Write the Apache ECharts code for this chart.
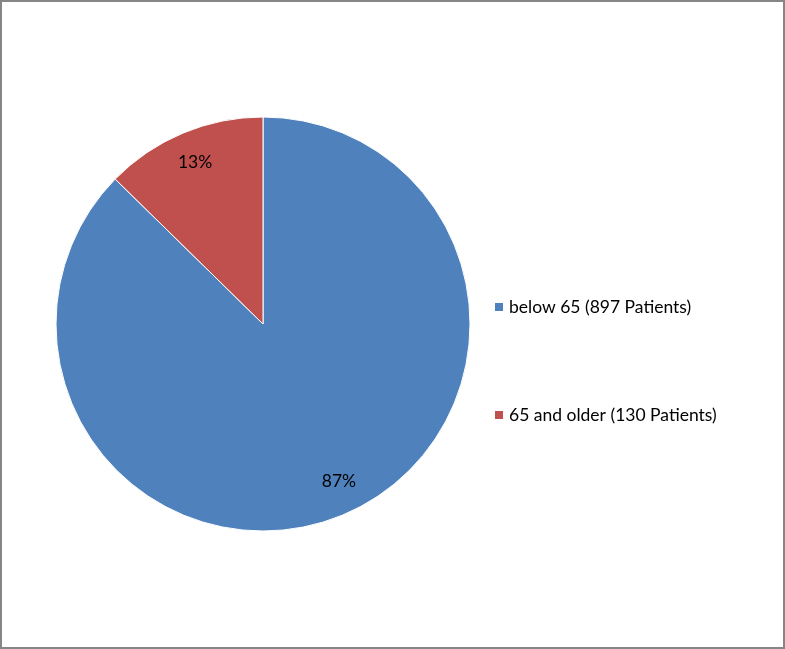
<!DOCTYPE html>
<html>
<head>
<meta charset="utf-8">
<script src="https://cdn.jsdelivr.net/npm/echarts@6/dist/echarts.min.js"></script>
<style>
  html, body { margin: 0; padding: 0; background: #fff; }
  #chart { width: 785px; height: 649px; }
</style>
</head>
<body>
<div id="chart"></div>
<script>
const categories = ['below 65 (897 Patients)', '65 and older (130 Patients)']
const patients = [897, 130]
const colors = ['#4F81BD', '#C0504D']

const chart = echarts.init(document.getElementById('chart'))

const pieData = categories.map((name, i) => ({
    name,
    value: patients[i],
    itemStyle: { color: colors[i] }
}))

// small nudge so the labels sit where the original placed them
const labelOffsets = [[7, -7], [1, 2]]

const option = {
    animation: false,
    textStyle: { fontFamily: 'Lato, sans-serif' },
    graphic: [{
        type: 'rect',
        shape: { x: 1, y: 1, width: 783, height: 647 },
        style: { fill: 'none', stroke: '#868686', lineWidth: 2 },
        silent: true
    }],
    legend: {
        orient: 'vertical',
        left: 488,
        top: 293,
        itemWidth: 10,
        itemHeight: 10,
        itemGap: 90,
        icon: 'rect',
        data: categories,
        textStyle: { fontSize: 17.5, color: '#000', fontFamily: 'Lato, sans-serif' }
    },
    series: [
        {
            type: 'pie',
            center: [263, 324],
            radius: [0, 207],
            startAngle: 90,
            clockwise: true,
            itemStyle: { borderColor: '#fff', borderWidth: 1 },
            label: { show: false },
            labelLine: { show: false },
            data: pieData
        },
        {
            // transparent ring used only to place the percentage labels near the rim
            type: 'pie',
            center: [263, 324],
            radius: [146, 204],
            startAngle: 90,
            clockwise: true,
            silent: true,
            itemStyle: { color: 'rgba(0,0,0,0)' },
            label: {
                show: true,
                position: 'inside',
                color: '#000',
                fontSize: 17.5,
                fontFamily: 'Lato, sans-serif',
                formatter: p => Math.round(p.percent) + '%'
            },
            labelLine: { show: false },
            data: categories.map((name, i) => ({
                name,
                value: patients[i],
                itemStyle: { color: 'rgba(0,0,0,0)' },
                label: { offset: labelOffsets[i] }
            }))
        }
    ]
}

chart.setOption(option)
</script>
</body>
</html>
